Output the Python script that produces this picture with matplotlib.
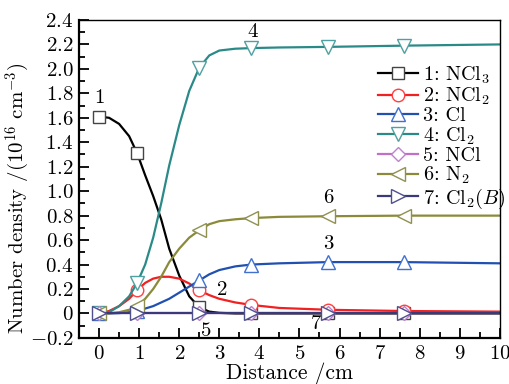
import matplotlib
matplotlib.use('Agg')
import matplotlib.pyplot as plt
import numpy as np
from matplotlib.ticker import MultipleLocator, FuncFormatter

plt.rcParams['font.family'] = 'serif'
plt.rcParams['font.serif'] = ['cmr10', 'DejaVu Serif']
plt.rcParams['mathtext.fontset'] = 'cm'
plt.rcParams['axes.formatter.use_mathtext'] = True

# distance (cm) where the curves were read
dist = [0, 0.25, 0.5, 0.75, 0.95, 1.15, 1.35, 1.55, 1.75, 2.0, 2.25, 2.5,
        2.75, 3.0, 3.4, 3.8, 4.5, 5.72, 7.6, 10]
# positions carrying markers
mark_x = [0, 0.95, 2.5, 3.8, 5.72, 7.6]

ncl3 = [1.61, 1.60, 1.55, 1.45, 1.31, 1.13, 0.96, 0.77, 0.53, 0.31, 0.14, 0.05,
        0.015, 0.005, 0, 0, 0, 0, 0, 0]
ncl2 = [0, 0.02, 0.06, 0.12, 0.19, 0.25, 0.285, 0.30, 0.30, 0.285, 0.245, 0.19,
        0.15, 0.12, 0.09, 0.07, 0.045, 0.03, 0.02, 0.015]
cl = [0, 0, 0.003, 0.01, 0.02, 0.04, 0.06, 0.09, 0.12, 0.17, 0.22, 0.27,
      0.32, 0.355, 0.385, 0.40, 0.41, 0.42, 0.42, 0.41]
cl2 = [0, 0.01, 0.06, 0.14, 0.25, 0.40, 0.62, 0.90, 1.21, 1.54, 1.82, 2.01,
       2.11, 2.15, 2.165, 2.17, 2.175, 2.18, 2.19, 2.2]
ncl = [0]*20
n2 = [0, 0, 0.01, 0.03, 0.06, 0.12, 0.20, 0.30, 0.42, 0.53, 0.62, 0.68,
      0.73, 0.755, 0.77, 0.78, 0.79, 0.795, 0.80, 0.80]
cl2b = [0]*20

labels = ['1: NCl$_3$', '2: NCl$_2$', '3: Cl', '4: Cl$_2$', '5: NCl',
          '6: N$_2$', '7: Cl$_2$($B$)']
series = [ncl3, ncl2, cl, cl2, ncl, n2, cl2b]
colors = ['black', '#f22020', '#2050b0', '#2a8a88', '#c070c8', '#8a8a3a', '#3a3a7a']
mcolors = ['#444444', '#ff4040', '#4070d0', '#50a0a0', '#c080d0', '#909050', '#50508f']
markers = ['s', 'o', '^', 'v', 'D', '<', '>']
msizes = [8, 9, 10, 10, 7, 10, 10]

# curve tags: (text, x, y)
tags = [('1', 0.0, 1.76), ('4', 3.83, 2.30), ('6', 5.72, 0.94), ('3', 5.72, 0.57),
        ('2', 3.07, 0.19), ('5', 2.67, -0.145), ('7', 5.42, -0.09)]

fig = plt.figure(figsize=(5.1, 3.84), dpi=100)
ax = fig.add_axes([0.155, 0.12, 0.825, 0.828])

idx = [i for i, d in enumerate(dist) if d in mark_x]
for y, c, mc, m, ms, lab in zip(series, colors, mcolors, markers, msizes, labels):
    ax.plot(dist, y, '-', color=c, lw=1.6, marker=m, ms=ms, markevery=idx,
            mfc='white', mec=mc, mew=1.0, label=lab)

for t, tx, ty in tags:
    ax.text(tx, ty, t, ha='center', va='center', fontsize=15)

ax.set_xlim(-0.5, 10)
ax.set_ylim(-0.2, 2.4)
ax.xaxis.set_major_locator(MultipleLocator(1))
ax.xaxis.set_minor_locator(MultipleLocator(0.5))
ax.yaxis.set_major_locator(MultipleLocator(0.2))
ax.yaxis.set_minor_locator(MultipleLocator(0.1))
ax.xaxis.set_major_formatter(FuncFormatter(lambda v, p: '$%d$' % round(v)))
ax.yaxis.set_major_formatter(FuncFormatter(
    lambda v, p: '$0$' if abs(v) < 1e-9 else '$%.1f$' % v))
ax.tick_params(which='both', direction='in', top=False, right=False, labelsize=15)
ax.tick_params(which='major', length=7, width=1.3)
ax.tick_params(which='minor', length=4, width=1.3)
ax.tick_params(axis='x', pad=5)
ax.tick_params(axis='y', pad=4)
for s in ['left', 'bottom']:
    ax.spines[s].set_linewidth(1.6)
for s in ['top', 'right']:
    ax.spines[s].set_linewidth(1.0)

ax.set_xlabel('Distance /cm', fontsize=15.5, labelpad=0)
ax.set_ylabel('Number density /(10$^{16}$ cm$^{-3}$)', fontsize=15)
ax.yaxis.set_label_coords(-0.112, 0.44)

ax.legend(loc='upper left', bbox_to_anchor=(0.71, 0.86), frameon=False,
          fontsize=14.5, handlelength=2.0, handletextpad=0.25, labelspacing=0.0,
          borderpad=0, borderaxespad=0)

fig.savefig('out.png', dpi=100)
